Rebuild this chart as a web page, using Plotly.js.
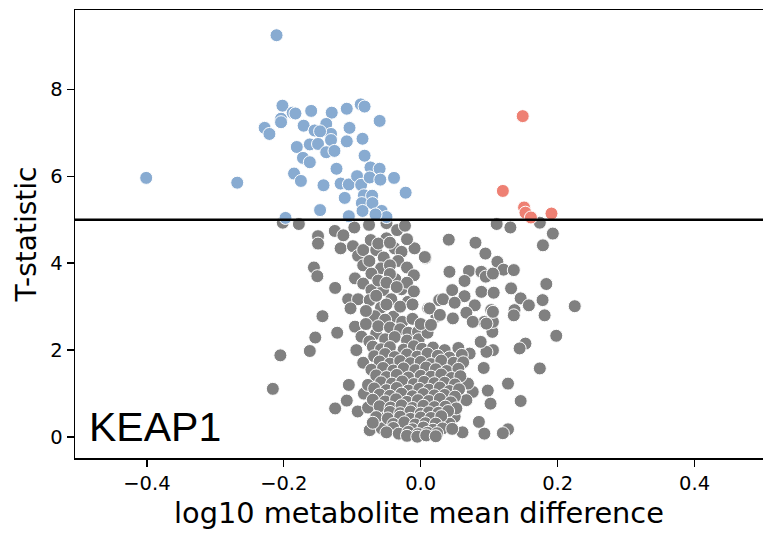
<!DOCTYPE html>
<html>
<head>
<meta charset="utf-8">
<script src="https://cdn.plot.ly/plotly-3.0.1.min.js"></script>
<style>html,body{margin:0;padding:0;background:#fff;}#chart{width:763px;height:537px;}</style>
</head>
<body>
<div id="chart"></div>
<script>
// Significant, lower in KEAP1 group (blue)
const blueX = [-0.2106,-0.401,-0.268,-0.202,-0.187,-0.183,-0.160,-0.130,-0.108,-0.0876,-0.082,-0.060,-0.204,-0.204,-0.228,-0.221,-0.171,-0.155,-0.138,-0.131,-0.147,-0.104,-0.131,-0.108,-0.085,-0.181,-0.162,-0.150,-0.138,-0.126,-0.172,-0.162,-0.082,-0.123,-0.0734,-0.060,-0.185,-0.175,-0.142,-0.117,-0.105,-0.093,-0.087,-0.0745,-0.059,-0.039,-0.022,-0.111,-0.083,-0.071,-0.086,-0.0705,-0.085,-0.057,-0.147,-0.105,-0.1975,-0.050,-0.066];
const blueY = [9.24,5.96,5.85,7.62,7.46,7.44,7.50,7.46,7.55,7.65,7.60,7.27,7.32,7.24,7.11,6.97,7.16,7.05,7.20,6.97,7.03,7.11,6.83,6.80,6.86,6.67,6.73,6.74,6.55,6.58,6.42,6.32,6.47,6.17,6.20,6.17,6.06,5.89,5.79,5.83,5.81,6.00,5.80,5.97,5.92,5.96,5.62,5.50,5.56,5.55,5.38,5.38,5.20,5.20,5.22,5.08,5.04,5.06,5.12];
// Significant, higher (red)
const redX = [0.149,0.120,0.151,0.153,0.161,0.191];
const redY = [7.38,5.66,5.28,5.16,5.05,5.14];
// Not significant (grey)
const greyX = [
-0.2015,-0.178,-0.150,-0.150,-0.156,-0.151,-0.125,-0.1435,-0.154,-0.162,-0.205,-0.216,-0.122,-0.096,-0.105,-0.108,-0.125,-0.092,-0.077,-0.083,-0.077,-0.0745,-0.055,
-0.1255,-0.113,-0.097,-0.0755,-0.050,-0.0345,-0.023,-0.117,-0.099,-0.0915,-0.084,-0.073,-0.065,-0.050,-0.054,-0.038,-0.028,-0.033,-0.009,0.007,-0.084,-0.058,-0.072,-0.096,-0.084,-0.072,-0.055,-0.037,-0.028,-0.043,-0.0185,-0.106,-0.0915,-0.1025,-0.0745,-0.058,-0.067,-0.040,-0.027,0.011,0.027,0.023,-0.065,-0.0866,-0.094,-0.084,-0.057,-0.055,-0.038,-0.026,
-0.062,-0.045,-0.020,-0.075,-0.045,-0.020,-0.010,-0.045,-0.062,-0.050,-0.020,-0.035,-0.010,-0.065,-0.050,-0.030,-0.012,-0.080,-0.052,-0.012,-0.080,-0.062,-0.045,-0.030,-0.018,-0.004,-0.075,-0.052,-0.038,-0.020,-0.003,0.010,0.000,0.015,
0.041,0.080,0.0945,0.112,0.121,0.136,0.111,0.131,0.174,0.193,0.1785,0.006,0.042,0.0705,0.0886,0.095,0.1055,0.064,0.046,0.064,0.0886,0.1066,0.132,0.0326,0.013,0.0496,0.079,0.103,0.137,0.028,0.047,0.0667,0.093,0.076,0.136,0.1835,0.146,0.158,0.178,0.181,0.225,0.198,0.174,0.153,0.1445,0.1275,0.146,0.098,0.102,0.085,0.1275,0.120,0.093,0.061,0.092,0.1055,0.096,0.0876,0.1047,0.1055,0.096,0.1055,0.0715,0.076,0.0667,0.069,0.0496,0.0375,0.042,
-0.070,-0.058,-0.045,-0.025,-0.010,0.002,0.018,0.035,0.055,
-0.068,-0.052,-0.038,-0.020,-0.005,0.010,0.025,0.042,0.060,
-0.060,-0.045,-0.030,-0.015,0.000,0.015,0.030,0.048,0.062,
-0.072,-0.055,-0.040,-0.025,-0.008,0.008,0.022,0.038,0.055,
-0.065,-0.050,-0.035,-0.018,0.000,0.015,0.030,0.045,0.058,
-0.058,-0.042,-0.027,-0.010,0.005,0.020,0.035,0.050,
-0.068,-0.050,-0.035,-0.018,-0.002,0.012,0.028,0.042,0.056,
-0.060,-0.045,-0.028,-0.012,0.004,0.020,0.035,0.050,
-0.070,-0.052,-0.036,-0.020,-0.004,0.012,0.028,0.044,
-0.060,-0.044,-0.028,-0.012,0.004,0.020,0.036,0.052,
-0.045,-0.030,-0.015,0.000,0.012,0.026,0.040,
-0.065,-0.048,-0.030,-0.015,0.000,0.015,0.030,
-0.070,-0.040,-0.024,-0.008,0.007,0.022,
-0.040,-0.012,0.004,0.018,0.032,0.046,
-0.050,-0.032,-0.018,-0.004,0.010,0.024,
-0.020,-0.005,0.008,0.022
];
const greyY = [
4.93,4.90,4.62,4.45,3.90,3.70,3.43,2.78,2.29,1.98,1.88,1.11,2.40,2.54,1.20,0.84,0.66,0.59,0.68,1.00,1.20,0.16,0.20,
4.74,4.64,4.82,4.88,4.92,4.76,4.86,4.34,4.39,4.17,4.30,4.53,4.30,4.57,4.13,4.34,4.26,4.05,4.34,4.12,3.95,3.88,3.76,3.65,3.53,3.38,3.38,3.63,3.40,3.17,3.11,3.17,3.17,2.96,3.15,2.98,2.78,2.77,2.65,2.96,3.15,2.77,2.38,2.31,2.00,1.71,0.20,0.62,0.66,0.20,
4.45,4.47,4.55,4.05,3.95,3.90,3.72,3.75,3.60,3.55,3.55,3.45,3.35,3.25,3.05,3.00,3.05,2.90,2.70,2.72,2.60,2.55,2.52,2.48,2.40,2.42,2.20,2.25,2.30,2.22,2.25,2.40,2.60,2.58,
4.54,4.47,4.22,4.03,3.85,3.84,4.90,4.82,4.93,4.68,4.41,4.14,3.80,3.82,3.80,3.69,3.76,3.59,3.38,3.24,3.34,3.32,3.42,3.17,2.96,3.09,3.03,2.92,2.92,2.81,2.73,2.86,2.65,2.65,2.80,3.52,3.19,3.03,3.15,2.80,3.01,2.33,1.58,2.15,2.04,1.23,0.83,1.07,0.77,0.35,0.18,0.09,0.08,0.11,1.59,2.00,1.96,2.19,2.42,2.65,2.61,2.88,1.92,1.04,0.85,1.23,0.47,0.31,0.31,
2.08,2.02,2.07,2.01,2.09,2.03,2.06,2.00,2.05,
1.86,1.91,1.84,1.90,1.85,1.92,1.87,1.83,1.89,
1.74,1.69,1.75,1.70,1.73,1.68,1.76,1.71,1.72,
1.55,1.59,1.53,1.58,1.54,1.60,1.56,1.52,1.57,
1.42,1.38,1.43,1.37,1.41,1.39,1.44,1.36,1.40,
1.26,1.23,1.28,1.22,1.27,1.24,1.25,1.21,
1.12,1.08,1.13,1.07,1.11,1.09,1.14,1.06,1.10,
0.98,0.95,1.00,0.94,0.99,0.96,0.97,0.93,
0.86,0.82,0.87,0.81,0.85,0.83,0.88,0.80,
0.71,0.68,0.73,0.67,0.72,0.69,0.70,0.66,
0.58,0.55,0.59,0.54,0.57,0.56,0.60,
0.46,0.43,0.47,0.42,0.45,0.44,0.48,
0.33,0.30,0.34,0.29,0.32,0.31,
0.21,0.18,0.22,0.17,0.20,0.19,
0.11,0.08,0.12,0.07,0.10,0.09,
0.03,0.01,0.04,0.02
];

const mk = (c) => ({size: 13, color: c, line: {color: '#ffffff', width: 1}});
const traces = [
  {type: 'scatter', mode: 'markers', x: greyX, y: greyY, marker: mk('#808080'), hoverinfo: 'x+y'},
  {type: 'scatter', mode: 'markers', x: blueX, y: blueY, marker: mk('#88abd1'), hoverinfo: 'x+y'},
  {type: 'scatter', mode: 'markers', x: redX, y: redY, marker: mk('#ee8073'), hoverinfo: 'x+y'}
];

const tickFont = {family: 'DejaVu Sans', size: 19.5, color: '#000'};
const layout = {
  width: 763, height: 537,
  margin: {l: 75, r: 0, t: 10, b: 79},
  paper_bgcolor: '#fff', plot_bgcolor: '#fff',
  showlegend: false,
  xaxis: {
    range: [-0.505, 0.5], tickvals: [-0.4, -0.2, 0, 0.2, 0.4], ticktext: ['\u22120.4', '\u22120.2', '0.0', '0.2', '0.4'],
    showgrid: false, zeroline: false, showline: true, mirror: true, linecolor: '#000', linewidth: 1.5,
    ticks: 'outside', ticklen: 7, tickwidth: 1.3, tickcolor: '#000', tickfont: tickFont,
    title: {text: 'log10 metabolite mean difference', font: {family: 'DejaVu Sans', size: 28.8, color: '#000'}, standoff: 9},
    automargin: false
  },
  yaxis: {
    range: [-0.48, 9.82], tickvals: [0, 2, 4, 6, 8],
    showgrid: false, zeroline: false, showline: true, mirror: false, linecolor: '#000', linewidth: 1.5,
    ticks: 'outside', ticklen: 7, tickwidth: 1.3, tickcolor: '#000', tickfont: tickFont,
    title: {text: 'T-statistic', font: {family: 'DejaVu Sans', size: 28, color: '#000'}, standoff: 5},
    automargin: false
  },
  shapes: [{type: 'line', xref: 'paper', x0: 0, x1: 1, yref: 'y', y0: 5, y1: 5, line: {color: '#000', width: 2.5}, layer: 'above'}],
  annotations: [{
    text: 'KEAP1', xref: 'paper', x: 0.018, xanchor: 'left', yref: 'y', y: 0.24, yanchor: 'middle',
    showarrow: false, font: {family: 'Liberation Sans', size: 41, color: '#000'}
  }]
};
Plotly.newPlot('chart', traces, layout, {displayModeBar: false, staticPlot: true});
</script>
</body>
</html>
